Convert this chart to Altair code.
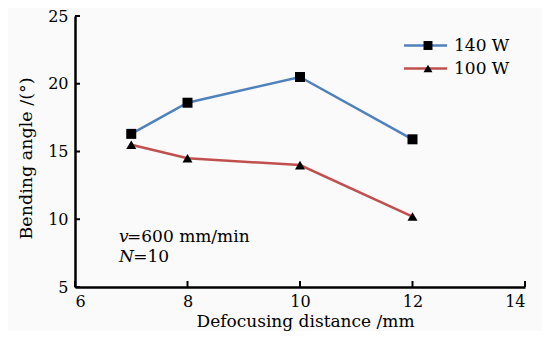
import altair as alt
import pandas as pd

distance = [7, 8, 10, 12]
angle_140 = [16.3, 18.6, 20.5, 15.9]
angle_100 = [15.5, 14.5, 14.0, 10.2]
series_names = ["140 W", "100 W"]
series_colors = ["#4f81bd", "#c0504d"]
series_shapes = ["square", "triangle-up"]
x_ticks = [6, 8, 10, 12, 14]
y_ticks = [5, 10, 15, 20, 25]

rows = []
for d, a in zip(distance, angle_140):
    rows.append({"distance": d, "angle": a, "series": "140 W"})
for d, a in zip(distance, angle_100):
    rows.append({"distance": d, "angle": a, "series": "100 W"})
df = pd.DataFrame(rows)

note_italic = pd.DataFrame({"x": [6.78, 6.78], "y": [8.7, 7.2], "t": ["v", "N"]})
note_plain = pd.DataFrame({"x": [6.925, 7.035], "y": [8.7, 7.2], "t": ["=600 mm/min", "=10"]})

FONT = "DejaVu Serif"

xscale = alt.Scale(domain=[6, 14], nice=False, zero=False)
yscale = alt.Scale(domain=[5, 25], nice=False, zero=False)

xaxis = alt.Axis(values=x_ticks, format="d", title="Defocusing distance /mm", grid=False,
                 domainColor="black", domainWidth=2.5, tickSize=0,
                 labelFont=FONT, labelFontSize=16, labelColor="black", labelPadding=6,
                 titleFont=FONT, titleFontSize=17, titleFontWeight="normal", titleColor="black",
                 titleBaseline="alphabetic", titleY=39, titleX=230)
yaxis = alt.Axis(values=y_ticks, format="d", title="Bending angle /(°)", grid=False,
                 domainColor="black", domainWidth=2.5, tickSize=0,
                 labelFont=FONT, labelFontSize=16, labelColor="black", labelPadding=7,
                 titleFont=FONT, titleFontSize=17.5, titleFontWeight="normal", titleColor="black",
                 titlePadding=12, titleY=142)

color_scale = alt.Scale(domain=series_names, range=series_colors)
shape_scale = alt.Scale(domain=series_names, range=series_shapes)

lines = alt.Chart(df).mark_line(strokeWidth=2.5).encode(
    x=alt.X("distance:Q", scale=xscale, axis=xaxis),
    y=alt.Y("angle:Q", scale=yscale, axis=yaxis),
    color=alt.Color("series:N", scale=color_scale, sort=series_names,
                    legend=alt.Legend(title=None, orient="none", legendX=342, legendY=21,
                                      symbolType="M-5,0H5", symbolSize=74, symbolStrokeWidth=2.5,
                                      labelFont=FONT, labelFontSize=17, labelColor="black",
                                      labelOffset=20, rowPadding=5, padding=0, zindex=1)),
)

points = alt.Chart(df).mark_point(filled=True, size=100, opacity=1, color="black").encode(
    x=alt.X("distance:Q", scale=xscale),
    y=alt.Y("angle:Q", scale=yscale),
    shape=alt.Shape("series:N", scale=shape_scale, sort=series_names,
                    legend=alt.Legend(title=None, orient="none", legendX=344.5, legendY=21,
                                      symbolSize=80, symbolFillColor="black", symbolStrokeColor="black",
                                      symbolOpacity=1, labelExpr="''",
                                      labelFont=FONT, labelFontSize=17, labelOpacity=0,
                                      rowPadding=5, padding=0, zindex=2)),
)

yt = alt.Chart(pd.DataFrame({"v": y_ticks})).mark_rule(color="black", strokeWidth=2).encode(
    y=alt.Y("v:Q", scale=yscale), x=alt.value(0), x2=alt.value(5))
xt = alt.Chart(pd.DataFrame({"v": x_ticks})).mark_rule(color="black", strokeWidth=2).encode(
    x=alt.X("v:Q", scale=xscale), y=alt.value(271), y2=alt.value(265))

t1 = alt.Chart(note_italic).mark_text(font=FONT, fontSize=17, fontStyle="italic", align="left",
                                      baseline="middle", color="black").encode(
    x=alt.X("x:Q", scale=xscale), y=alt.Y("y:Q", scale=yscale), text="t:N")
t2 = alt.Chart(note_plain).mark_text(font=FONT, fontSize=17, align="left",
                                     baseline="middle", color="black").encode(
    x=alt.X("x:Q", scale=xscale), y=alt.Y("y:Q", scale=yscale), text="t:N")

chart = alt.layer(lines, points, yt, xt, t1, t2).resolve_legend(color="independent", shape="independent").properties(
    width=450, height=271,
    autosize=alt.AutoSizeParams(type="none"),
    padding={"left": 67, "top": 8, "right": 17, "bottom": 44},
    background="#fafafa",
).configure_view(stroke=None)

chart.save("out.html", embed_options={"renderer": "svg", "actions": False})
